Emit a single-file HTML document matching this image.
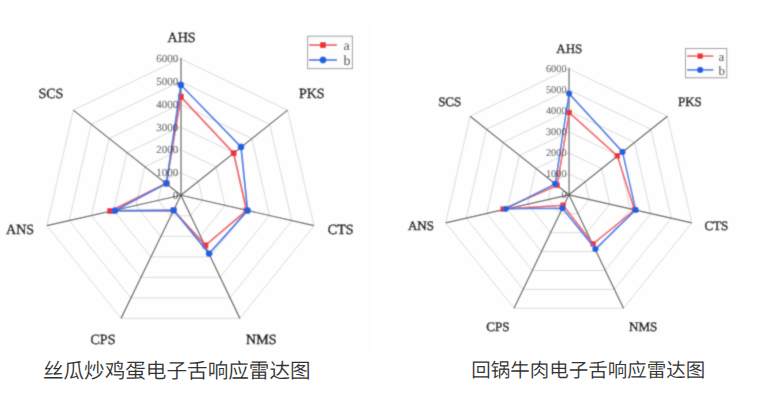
<!DOCTYPE html>
<html><head><meta charset="utf-8"><style>
html,body{margin:0;padding:0;background:#fff;width:769px;height:402px;overflow:hidden;position:relative}
svg{display:block;position:absolute;left:0;top:0}
</style></head><body>
<svg id="charts" width="769" height="402" viewBox="0 0 769 402">
<defs><filter id="soft" x="0" y="0" width="769" height="402" filterUnits="userSpaceOnUse"><feConvolveMatrix order="3" kernelMatrix="1 4 1 4 16 4 1 4 1" edgeMode="duplicate"/></filter></defs>
<g filter="url(#soft)">
<rect x="0" y="18.2" width="371.9" height="335.5" fill="#fefefe"/>
<rect x="382.9" y="30.9" width="386.1" height="319" fill="#fefefe"/>
<polygon points="180.45,172.53 198.3,181.11 202.71,200.37 190.36,215.81 170.54,215.81 158.19,200.37 162.6,181.11" fill="none" stroke="#d6d6d6" stroke-width="0.9"/>
<polygon points="180.45,149.77 216.15,166.91 224.97,205.43 200.26,236.32 160.64,236.32 135.93,205.43 144.75,166.91" fill="none" stroke="#d6d6d6" stroke-width="0.9"/>
<polygon points="180.45,127 234.01,152.72 247.23,210.5 210.17,256.84 150.73,256.84 113.67,210.5 126.89,152.72" fill="none" stroke="#d6d6d6" stroke-width="0.9"/>
<polygon points="180.45,104.23 251.86,138.52 269.49,215.56 220.08,277.35 140.82,277.35 91.41,215.56 109.04,138.52" fill="none" stroke="#d6d6d6" stroke-width="0.9"/>
<polygon points="180.45,81.47 269.71,124.33 291.75,220.63 229.99,297.86 130.91,297.86 69.15,220.63 91.19,124.33" fill="none" stroke="#d6d6d6" stroke-width="0.9"/>
<polygon points="180.45,58.7 287.56,110.13 314.02,225.7 239.89,318.37 121.01,318.37 46.88,225.7 73.34,110.13" fill="none" stroke="#d6d6d6" stroke-width="0.9"/>
<line x1="181.05" y1="195.25" x2="181.05" y2="57.7" stroke="#949494" stroke-width="1.8"/>
<line x1="180.9" y1="195.25" x2="287.56" y2="110.13" stroke="#585858" stroke-width="1.2"/>
<line x1="180.9" y1="195.25" x2="314.02" y2="225.7" stroke="#585858" stroke-width="1.2"/>
<line x1="180.9" y1="195.25" x2="239.89" y2="318.37" stroke="#585858" stroke-width="1.2"/>
<line x1="180.9" y1="195.25" x2="121.01" y2="318.37" stroke="#585858" stroke-width="1.2"/>
<line x1="180.9" y1="195.25" x2="46.88" y2="225.7" stroke="#585858" stroke-width="1.2"/>
<line x1="180.9" y1="195.25" x2="73.34" y2="110.13" stroke="#585858" stroke-width="1.2"/>
<polygon points="180.9,96.8 233.6,153.1 246.5,210.5 205.4,245.4 173.6,210.3 110.2,211 166.4,183.4" fill="none" stroke="#f25860" stroke-width="1.75" stroke-linejoin="round"/>
<rect x="177.9" y="93.8" width="6" height="6" fill="#ef3038"/>
<rect x="230.6" y="150.1" width="6" height="6" fill="#ef3038"/>
<rect x="243.5" y="207.5" width="6" height="6" fill="#ef3038"/>
<rect x="202.4" y="242.4" width="6" height="6" fill="#ef3038"/>
<rect x="170.6" y="207.3" width="6" height="6" fill="#ef3038"/>
<rect x="107.2" y="208" width="6" height="6" fill="#ef3038"/>
<rect x="163.4" y="180.4" width="6" height="6" fill="#ef3038"/>
<polygon points="180.85,85 241,146.9 247.6,210.6 209.1,253.6 173.6,210.3 114.9,210.7 166.4,183.4" fill="none" stroke="#3a7ae6" stroke-width="1.75" stroke-linejoin="round"/>
<circle cx="180.85" cy="85" r="3.4" fill="#1f62e0"/>
<circle cx="241" cy="146.9" r="3.4" fill="#1f62e0"/>
<circle cx="247.6" cy="210.6" r="3.4" fill="#1f62e0"/>
<circle cx="209.1" cy="253.6" r="3.4" fill="#1f62e0"/>
<circle cx="173.6" cy="210.3" r="3.4" fill="#1f62e0"/>
<circle cx="114.9" cy="210.7" r="3.4" fill="#1f62e0"/>
<circle cx="166.4" cy="183.4" r="3.4" fill="#1f62e0"/>
<text x="178.2" y="198.8" text-anchor="end" font-size="11" fill="#5e5e5e" stroke="#5e5e5e" stroke-width="0.1" font-family="Liberation Serif, serif" text-rendering="geometricPrecision" style="mix-blend-mode:multiply">0</text>
<text x="178.2" y="176.03" text-anchor="end" font-size="11" fill="#5e5e5e" stroke="#5e5e5e" stroke-width="0.1" font-family="Liberation Serif, serif" text-rendering="geometricPrecision" style="mix-blend-mode:multiply">1000</text>
<text x="178.2" y="153.27" text-anchor="end" font-size="11" fill="#5e5e5e" stroke="#5e5e5e" stroke-width="0.1" font-family="Liberation Serif, serif" text-rendering="geometricPrecision" style="mix-blend-mode:multiply">2000</text>
<text x="178.2" y="130.5" text-anchor="end" font-size="11" fill="#5e5e5e" stroke="#5e5e5e" stroke-width="0.1" font-family="Liberation Serif, serif" text-rendering="geometricPrecision" style="mix-blend-mode:multiply">3000</text>
<text x="178.2" y="107.73" text-anchor="end" font-size="11" fill="#5e5e5e" stroke="#5e5e5e" stroke-width="0.1" font-family="Liberation Serif, serif" text-rendering="geometricPrecision" style="mix-blend-mode:multiply">4000</text>
<text x="178.2" y="84.97" text-anchor="end" font-size="11" fill="#5e5e5e" stroke="#5e5e5e" stroke-width="0.1" font-family="Liberation Serif, serif" text-rendering="geometricPrecision" style="mix-blend-mode:multiply">5000</text>
<text x="178.2" y="62.2" text-anchor="end" font-size="11" fill="#5e5e5e" stroke="#5e5e5e" stroke-width="0.1" font-family="Liberation Serif, serif" text-rendering="geometricPrecision" style="mix-blend-mode:multiply">6000</text>
<text x="181.6" y="41.9" text-anchor="middle" font-size="14" fill="#141414" stroke="#141414" stroke-width="0.5" font-family="Liberation Serif, serif" text-rendering="geometricPrecision">AHS</text>
<text x="311.8" y="98.2" text-anchor="middle" font-size="14" fill="#141414" stroke="#141414" stroke-width="0.5" font-family="Liberation Serif, serif" text-rendering="geometricPrecision">PKS</text>
<text x="340.7" y="233.9" text-anchor="middle" font-size="14" fill="#141414" stroke="#141414" stroke-width="0.5" font-family="Liberation Serif, serif" text-rendering="geometricPrecision">CTS</text>
<text x="261.3" y="343.9" text-anchor="middle" font-size="14" fill="#141414" stroke="#141414" stroke-width="0.5" font-family="Liberation Serif, serif" text-rendering="geometricPrecision">NMS</text>
<text x="103" y="343.9" text-anchor="middle" font-size="14" fill="#141414" stroke="#141414" stroke-width="0.5" font-family="Liberation Serif, serif" text-rendering="geometricPrecision">CPS</text>
<text x="20.1" y="233.9" text-anchor="middle" font-size="14" fill="#141414" stroke="#141414" stroke-width="0.5" font-family="Liberation Serif, serif" text-rendering="geometricPrecision">ANS</text>
<text x="50.9" y="98.2" text-anchor="middle" font-size="14" fill="#141414" stroke="#141414" stroke-width="0.5" font-family="Liberation Serif, serif" text-rendering="geometricPrecision">SCS</text>
<rect x="307.6" y="36.2" width="44.8" height="32.4" fill="#fdfdfd" stroke="#999" stroke-width="1"/>
<line x1="309" y1="45.1" x2="337" y2="45.1" stroke="#f25860" stroke-width="1.75"/>
<rect x="320" y="42.1" width="6" height="6" fill="#ef3038"/>
<line x1="309" y1="60" x2="337" y2="60" stroke="#3a7ae6" stroke-width="1.75"/>
<circle cx="323" cy="60" r="3.4" fill="#1f62e0"/>
<text x="343.5" y="49.9" font-size="14" fill="#444" font-family="Liberation Serif, serif" text-rendering="geometricPrecision">a</text>
<text x="343.5" y="64.8" font-size="14" fill="#444" font-family="Liberation Serif, serif" text-rendering="geometricPrecision">b</text>
<polygon points="568.75,173.8 585.19,181.71 589.26,199.47 577.88,213.72 559.62,213.72 548.24,199.47 552.31,181.71" fill="none" stroke="#d6d6d6" stroke-width="0.9"/>
<polygon points="568.75,152.8 601.64,168.61 609.76,204.15 587,232.64 550.5,232.64 527.74,204.15 535.86,168.61" fill="none" stroke="#d6d6d6" stroke-width="0.9"/>
<polygon points="568.75,131.8 618.08,155.52 630.27,208.82 596.13,251.56 541.37,251.56 507.23,208.82 519.42,155.52" fill="none" stroke="#d6d6d6" stroke-width="0.9"/>
<polygon points="568.75,110.8 634.53,142.43 650.77,213.49 605.25,270.48 532.25,270.48 486.73,213.49 502.97,142.43" fill="none" stroke="#d6d6d6" stroke-width="0.9"/>
<polygon points="568.75,89.8 650.97,129.33 671.28,218.16 614.38,289.4 523.12,289.4 466.22,218.16 486.53,129.33" fill="none" stroke="#d6d6d6" stroke-width="0.9"/>
<polygon points="568.75,68.8 667.42,116.24 691.79,222.84 623.51,308.32 513.99,308.32 445.71,222.84 470.08,116.24" fill="none" stroke="#d6d6d6" stroke-width="0.9"/>
<line x1="569.1" y1="194.8" x2="569.1" y2="67.8" stroke="#949494" stroke-width="1.8"/>
<line x1="568.95" y1="194.8" x2="667.42" y2="116.24" stroke="#585858" stroke-width="1.2"/>
<line x1="568.95" y1="194.8" x2="691.79" y2="222.84" stroke="#585858" stroke-width="1.2"/>
<line x1="568.95" y1="194.8" x2="623.51" y2="308.32" stroke="#585858" stroke-width="1.2"/>
<line x1="568.95" y1="194.8" x2="513.99" y2="308.32" stroke="#585858" stroke-width="1.2"/>
<line x1="568.95" y1="194.8" x2="445.71" y2="222.84" stroke="#585858" stroke-width="1.2"/>
<line x1="568.95" y1="194.8" x2="470.08" y2="116.24" stroke="#585858" stroke-width="1.2"/>
<polygon points="569.2,112.6 617.3,155.8 634.5,210 593.1,243.9 563.1,205.2 503.1,209.1 557.2,185.4" fill="none" stroke="#f25860" stroke-width="1.6" stroke-linejoin="round"/>
<rect x="566.45" y="109.85" width="5.5" height="5.5" fill="#ef3038"/>
<rect x="614.55" y="153.05" width="5.5" height="5.5" fill="#ef3038"/>
<rect x="631.75" y="207.25" width="5.5" height="5.5" fill="#ef3038"/>
<rect x="590.35" y="241.15" width="5.5" height="5.5" fill="#ef3038"/>
<rect x="560.35" y="202.45" width="5.5" height="5.5" fill="#ef3038"/>
<rect x="500.35" y="206.35" width="5.5" height="5.5" fill="#ef3038"/>
<rect x="554.45" y="182.65" width="5.5" height="5.5" fill="#ef3038"/>
<polygon points="569.1,93.6 622.5,151.9 635.7,209.9 595.4,249.1 562.4,208.2 505.7,208.8 555.2,183.9" fill="none" stroke="#3a7ae6" stroke-width="1.6" stroke-linejoin="round"/>
<circle cx="569.1" cy="93.6" r="3.15" fill="#1f62e0"/>
<circle cx="622.5" cy="151.9" r="3.15" fill="#1f62e0"/>
<circle cx="635.7" cy="209.9" r="3.15" fill="#1f62e0"/>
<circle cx="595.4" cy="249.1" r="3.15" fill="#1f62e0"/>
<circle cx="562.4" cy="208.2" r="3.15" fill="#1f62e0"/>
<circle cx="505.7" cy="208.8" r="3.15" fill="#1f62e0"/>
<circle cx="555.2" cy="183.9" r="3.15" fill="#1f62e0"/>
<text x="566.55" y="198.2" text-anchor="end" font-size="10.3" fill="#5e5e5e" stroke="#5e5e5e" stroke-width="0.1" font-family="Liberation Serif, serif" text-rendering="geometricPrecision" style="mix-blend-mode:multiply">0</text>
<text x="566.55" y="177.2" text-anchor="end" font-size="10.3" fill="#5e5e5e" stroke="#5e5e5e" stroke-width="0.1" font-family="Liberation Serif, serif" text-rendering="geometricPrecision" style="mix-blend-mode:multiply">1000</text>
<text x="566.55" y="156.2" text-anchor="end" font-size="10.3" fill="#5e5e5e" stroke="#5e5e5e" stroke-width="0.1" font-family="Liberation Serif, serif" text-rendering="geometricPrecision" style="mix-blend-mode:multiply">2000</text>
<text x="566.55" y="135.2" text-anchor="end" font-size="10.3" fill="#5e5e5e" stroke="#5e5e5e" stroke-width="0.1" font-family="Liberation Serif, serif" text-rendering="geometricPrecision" style="mix-blend-mode:multiply">3000</text>
<text x="566.55" y="114.2" text-anchor="end" font-size="10.3" fill="#5e5e5e" stroke="#5e5e5e" stroke-width="0.1" font-family="Liberation Serif, serif" text-rendering="geometricPrecision" style="mix-blend-mode:multiply">4000</text>
<text x="566.55" y="93.2" text-anchor="end" font-size="10.3" fill="#5e5e5e" stroke="#5e5e5e" stroke-width="0.1" font-family="Liberation Serif, serif" text-rendering="geometricPrecision" style="mix-blend-mode:multiply">5000</text>
<text x="566.55" y="72.2" text-anchor="end" font-size="10.3" fill="#5e5e5e" stroke="#5e5e5e" stroke-width="0.1" font-family="Liberation Serif, serif" text-rendering="geometricPrecision" style="mix-blend-mode:multiply">6000</text>
<text x="569.3" y="52.9" text-anchor="middle" font-size="13" fill="#141414" stroke="#141414" stroke-width="0.5" font-family="Liberation Serif, serif" text-rendering="geometricPrecision">AHS</text>
<text x="689.9" y="105.7" text-anchor="middle" font-size="13" fill="#141414" stroke="#141414" stroke-width="0.5" font-family="Liberation Serif, serif" text-rendering="geometricPrecision">PKS</text>
<text x="716.4" y="229.5" text-anchor="middle" font-size="13" fill="#141414" stroke="#141414" stroke-width="0.5" font-family="Liberation Serif, serif" text-rendering="geometricPrecision">CTS</text>
<text x="643.2" y="330.5" text-anchor="middle" font-size="13" fill="#141414" stroke="#141414" stroke-width="0.5" font-family="Liberation Serif, serif" text-rendering="geometricPrecision">NMS</text>
<text x="497.9" y="330.5" text-anchor="middle" font-size="13" fill="#141414" stroke="#141414" stroke-width="0.5" font-family="Liberation Serif, serif" text-rendering="geometricPrecision">CPS</text>
<text x="421" y="229.5" text-anchor="middle" font-size="13" fill="#141414" stroke="#141414" stroke-width="0.5" font-family="Liberation Serif, serif" text-rendering="geometricPrecision">ANS</text>
<text x="449.7" y="105.7" text-anchor="middle" font-size="13" fill="#141414" stroke="#141414" stroke-width="0.5" font-family="Liberation Serif, serif" text-rendering="geometricPrecision">SCS</text>
<rect x="685.5" y="48.5" width="41.3" height="29.3" fill="#fdfdfd" stroke="#999" stroke-width="1"/>
<line x1="687" y1="56.1" x2="713.4" y2="56.1" stroke="#f25860" stroke-width="1.6"/>
<rect x="697.45" y="53.35" width="5.5" height="5.5" fill="#ef3038"/>
<line x1="687" y1="69.9" x2="713.4" y2="69.9" stroke="#3a7ae6" stroke-width="1.6"/>
<circle cx="700.2" cy="69.9" r="3.15" fill="#1f62e0"/>
<text x="718.5" y="61.4" font-size="13" fill="#444" font-family="Liberation Serif, serif" text-rendering="geometricPrecision">a</text>
<text x="718.5" y="75.2" font-size="13" fill="#444" font-family="Liberation Serif, serif" text-rendering="geometricPrecision">b</text>
</g>
</svg>
<svg width="769" height="402" viewBox="0 0 769 402">
<text x="42.9" y="378.2" font-size="20.6" fill="#333" font-family="Liberation Sans, Noto Sans CJK SC, sans-serif" font-weight="350" text-rendering="geometricPrecision">丝瓜炒鸡蛋电子舌响应雷达图</text>
<text x="471.2" y="377.1" font-size="19.5" fill="#333" font-family="Liberation Sans, Noto Sans CJK SC, sans-serif" font-weight="350" text-rendering="geometricPrecision">回锅牛肉电子舌响应雷达图</text>
</svg>
</body></html>
